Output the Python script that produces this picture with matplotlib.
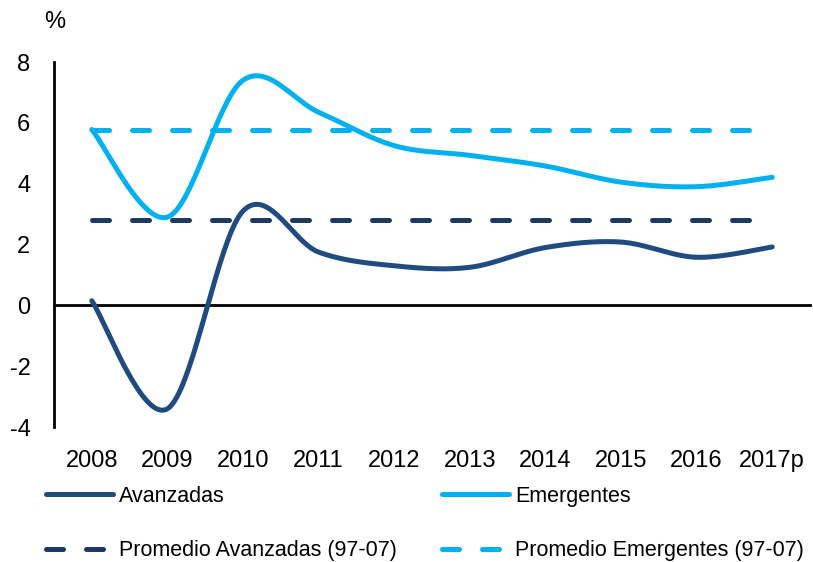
import numpy as np
import matplotlib
matplotlib.use("Agg")
import matplotlib.pyplot as plt
from matplotlib.lines import Line2D

# -------------------------------
# Data
# -------------------------------
years = ["2008", "2009", "2010", "2011", "2012", "2013", "2014", "2015", "2016", "2017p"]
avanzadas = [0.15, -3.4, 3.1, 1.75, 1.3, 1.25, 1.9, 2.08, 1.58, 1.92]
emergentes = [5.78, 2.9, 7.4, 6.35, 5.25, 4.93, 4.58, 4.05, 3.9, 4.21]
prom_avanzadas = 2.82
prom_emergentes = 5.78

c_avz = "#1F4B80"
c_avz_dash = "#1C3A64"
c_emg = "#00B0F0"

plt.rcParams['font.family'] = ['Liberation Sans Narrow', 'Liberation Sans', 'DejaVu Sans']
plt.rcParams['axes.unicode_minus'] = False


def smooth(y, n=40):
    """Excel-like smoothed line: Catmull-Rom Bezier through each point."""
    y = np.asarray(y, dtype=float)
    x = np.arange(len(y), dtype=float)
    pts = np.column_stack([x, y])
    ext = np.vstack([pts[0], pts, pts[-1]])
    out = []
    t = np.linspace(0, 1, n)[:, None]
    for i in range(len(pts) - 1):
        p0, p3 = ext[i + 1], ext[i + 2]
        p1 = p0 + (ext[i + 2] - ext[i]) / 6.0
        p2 = p3 - (ext[i + 3] - ext[i + 1]) / 6.0
        seg = ((1 - t) ** 3) * p0 + 3 * t * (1 - t) ** 2 * p1 + 3 * t ** 2 * (1 - t) * p2 + t ** 3 * p3
        out.append(seg if i == 0 else seg[1:])
    out = np.vstack(out)
    return out[:, 0], out[:, 1]


fig = plt.figure(figsize=(8.13, 5.62), dpi=100)
ax = fig.add_axes([54 / 813, 1 - 427 / 562, (810 - 54) / 813, (427 - 62) / 562])

lw = 3.6
dash = (3.4, 4.6)

xs, ys = smooth(avanzadas)
ax.plot(xs, ys, color=c_avz, lw=lw, solid_capstyle="round", zorder=4)
xs, ys = smooth(emergentes)
ax.plot(xs, ys, color=c_emg, lw=lw, solid_capstyle="round", zorder=4)

xi = np.arange(len(years))
ax.plot(xi, [prom_avanzadas] * len(years), color=c_avz_dash, lw=lw,
        dashes=dash, dash_capstyle="round", zorder=3)
ax.plot(xi, [prom_emergentes] * len(years), color=c_emg, lw=lw,
        dashes=dash, dash_capstyle="round", zorder=3)

ax.set_xlim(-0.5, 9.5)
ax.set_ylim(-4, 8)
ax.set_yticks(np.arange(-4, 9, 2))
ax.set_xticks([])

ax.spines["top"].set_visible(False)
ax.spines["right"].set_visible(False)
ax.spines["bottom"].set_position(("data", 0))
ax.spines["bottom"].set_linewidth(2.0)
ax.spines["left"].set_linewidth(2.0)
ax.tick_params(axis="y", length=0, pad=17, labelsize=17)

# category labels sit under the plot area, not on the zero line
for i, yr in enumerate(years):
    ax.text(i, -4.75, yr, ha="center", va="top", fontsize=17, clip_on=False)

fig.text(55 / 813, 1 - 22 / 562, "%", ha="center", va="center", fontsize=17)

handles = [
    Line2D([], [], color=c_avz, lw=lw, solid_capstyle="round"),
    Line2D([], [], color=c_avz_dash, lw=lw, dashes=dash, dash_capstyle="round"),
    Line2D([], [], color=c_emg, lw=lw, solid_capstyle="round"),
    Line2D([], [], color=c_emg, lw=lw, dashes=dash, dash_capstyle="round"),
]
labels = ["Avanzadas", "Promedio Avanzadas (97-07)", "Emergentes", "Promedio Emergentes (97-07)"]
fig.legend(handles, labels, ncol=2, loc="upper left", bbox_to_anchor=(46 / 813, 1 - 486 / 562),
           frameon=False, fontsize=15.5, handlelength=3.1, handletextpad=0.3,
           columnspacing=2.1, labelspacing=1.55, borderpad=0, borderaxespad=0)

fig.savefig("out.png", dpi=100)
